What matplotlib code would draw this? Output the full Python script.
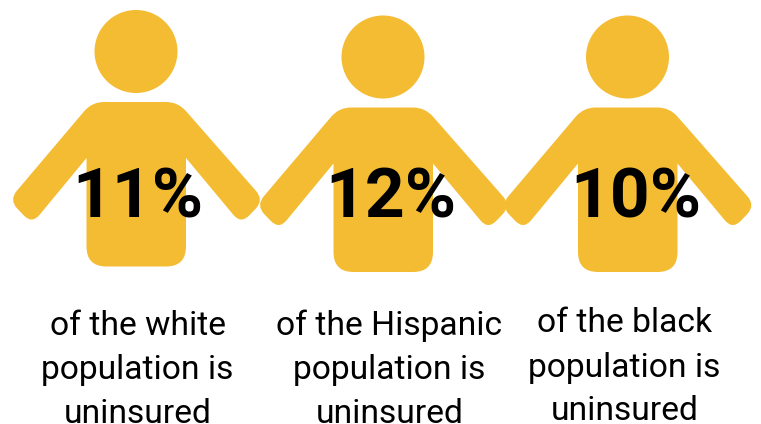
import matplotlib.pyplot as plt
from matplotlib.patches import Circle, PathPatch
from matplotlib.path import Path

groups = ['white', 'Hispanic', 'black']
uninsured_pct = [11, 12, 10]

person_x = [136, 383, 627.5]
head_y = [51.5, 57, 57]
shoulder_y = [102, 107.5, 107.5]
pct_x = [138, 391, 635.5]
pct_y = [218, 218, 218]
caption_x = [137.5, 389.5, 624.5]
caption_y = [335, 335, 332.5]

yellow = '#F4BC33'

# body outline around the person's centre, (dx, dy, corner radius)
body = [(-44, 0, 12), (-127, 98, 12), (-104, 122, 12), (-49.5, 56, 0),
        (-49.5, 164.5, 20), (50, 164.5, 20), (50, 56, 0),
        (105, 122, 12), (128, 98, 12), (42, 0, 12)]


def rounded_path(points):
    verts, codes = [], []
    n = len(points)
    for i in range(n):
        x, y, r = points[i]
        x0, y0, _ = points[i - 1]
        x1, y1, _ = points[(i + 1) % n]
        d0 = ((x0 - x) ** 2 + (y0 - y) ** 2) ** 0.5
        d1 = ((x1 - x) ** 2 + (y1 - y) ** 2) ** 0.5
        a = (x + (x0 - x) * r / d0, y + (y0 - y) * r / d0)
        b = (x + (x1 - x) * r / d1, y + (y1 - y) * r / d1)
        verts += [a, (x, y), b]
        codes += [Path.MOVETO if i == 0 else Path.LINETO, Path.CURVE3, Path.CURVE3]
    verts.append(verts[0])
    codes.append(Path.CLOSEPOLY)
    return Path(verts, codes)


fig = plt.figure(figsize=(7.61, 4.24), dpi=100)
ax = fig.add_axes([0, 0, 1, 1])
ax.set_xlim(0, 761)
ax.set_ylim(424, 0)
ax.axis('off')

for i in range(len(groups)):
    cx = person_x[i]
    ax.add_patch(Circle((cx, head_y[i]), 41.5, fc=yellow, ec='none'))
    outline = [(cx + dx, shoulder_y[i] + dy, r) for dx, dy, r in body]
    ax.add_patch(PathPatch(rounded_path(outline), fc=yellow, ec='none'))

    ax.text(pct_x[i], pct_y[i], f'{uninsured_pct[i]}%', family='Roboto', weight='bold',
            fontsize=50, color='black', ha='center', va='baseline')

    lines = [f'of the {groups[i]}', 'population is', 'uninsured']
    for j, line in enumerate(lines):
        ax.text(caption_x[i], caption_y[i] + j * 44, line, family='Roboto',
                fontsize=24.2, color='black', ha='center', va='baseline')

fig.savefig('out.png', dpi=100)
